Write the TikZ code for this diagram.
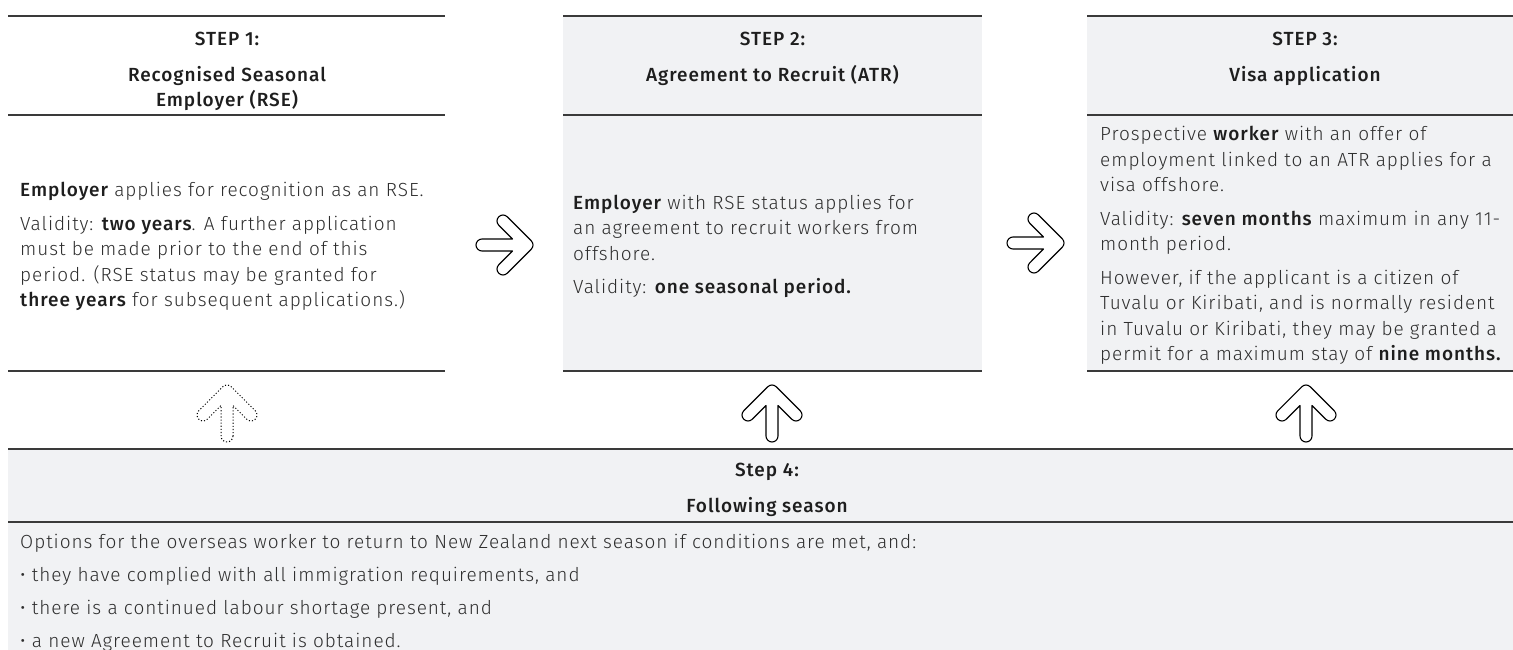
\documentclass[tikz,border=0pt]{standalone}
\usepackage{fontspec}
\setmainfont{Fira Sans Light}[BoldFont={Fira Sans Medium}, LetterSpace=5]
\definecolor{boxgray}{HTML}{F1F2F4}
\definecolor{ink}{HTML}{1E1E1E}
\definecolor{bodyink}{HTML}{2E2E2E}
\definecolor{rulec}{HTML}{3A3A3A}
\newcommand{\hl}[1]{{\bfseries\color{ink}#1}}
\tikzset{
  rulel/.style={draw=rulec, line width=1.4pt},
  graybox/.style={fill=boxgray, draw=none},
  body/.style={anchor=north west, inner sep=0pt, align=left, text=bodyink,
    font=\fontsize{19}{25.5}\selectfont},
  body4/.style={anchor=north west, inner sep=0pt, align=left, text=bodyink,
    font=\fontsize{19}{33}\selectfont},
  steplbl/.style={anchor=base, inner sep=0pt, text=ink,
    font=\bfseries\fontsize{19}{24.5}\selectfont},
  titlelbl/.style={anchor=north, inner sep=0pt, align=center, text=ink,
    font=\bfseries\fontsize{19}{24.5}\selectfont},
  arrowline/.style={draw=black, line width=1.1pt, line join=round, fill=white},
  bigarrow/.pic={
    \path[pic actions]
      (6,45) arc[start angle=0,end angle=180,radius=6]
      -- (-6,14.485)
      -- (-19.757,28.243)
      arc[start angle=45,end angle=225,radius=6]
      -- (-4.243,-4.243)
      arc[start angle=225,end angle=315,radius=6]
      -- (28.243,19.757)
      arc[start angle=-45,end angle=135,radius=6]
      -- (6,14.485)
      -- cycle;
  }
}
\begin{document}
\begin{tikzpicture}[x=1pt,y=-1pt]
\useasboundingbox (0,0) rectangle (1513,650);
% backgrounds
\path[graybox] (563,16) rectangle (982,371);
\path[graybox] (1087,16) rectangle (1513,371);
\path[graybox] (8,449) rectangle (1513,650);
% step 1 rules
\coordinate (r1a) at (8,16);   \coordinate (r1b) at (445,16);
\coordinate (r1c) at (8,115);  \coordinate (r1d) at (445,115);
\coordinate (r1e) at (8,371);  \coordinate (r1f) at (445,371);
\draw[rulel] (r1a) -- (r1b);
\draw[rulel] (r1c) -- (r1d);
\draw[rulel] (r1e) -- (r1f);
% step 2 rules
\coordinate (r2a) at (563,16);   \coordinate (r2b) at (982,16);
\coordinate (r2c) at (563,115);  \coordinate (r2d) at (982,115);
\coordinate (r2e) at (563,371);  \coordinate (r2f) at (982,371);
\draw[rulel] (r2a) -- (r2b);
\draw[rulel] (r2c) -- (r2d);
\draw[rulel] (r2e) -- (r2f);
% step 3 rules
\coordinate (r3a) at (1087,16);   \coordinate (r3b) at (1513,16);
\coordinate (r3c) at (1087,115);  \coordinate (r3d) at (1513,115);
\coordinate (r3e) at (1087,371);  \coordinate (r3f) at (1513,371);
\draw[rulel] (r3a) -- (r3b);
\draw[rulel] (r3c) -- (r3d);
\draw[rulel] (r3e) -- (r3f);
% step 4 rules
\coordinate (r4a) at (8,449);   \coordinate (r4b) at (1513,449);
\coordinate (r4c) at (8,522);   \coordinate (r4d) at (1513,522);
\draw[rulel] (r4a) -- (r4b);
\draw[rulel] (r4c) -- (r4d);

% headers
\node[steplbl] (s1n) at (227,45.7) {STEP 1:};
\node[titlelbl] (s1t) at (227,64.55) {\strut Recognised Seasonal\\Employer (RSE)};
\node[steplbl] (s2n) at (772.5,45.7) {STEP 2:};
\node[titlelbl] (s2t) at (772.5,64.55) {\strut Agreement to Recruit (ATR)};
\node[steplbl] (s3n) at (1305,45.7) {STEP 3:};
\node[titlelbl] (s3t) at (1305,64.55) {\strut Visa application};

% bodies
\node[body] (s1b) at (20,178.85) {\strut\hl{Employer} applies for recognition as an RSE.\\[8pt]
Validity: \hl{two years}. A further application\\
must be made prior to the end of this\\
period. (RSE status may be granted for\\
\hl{three years} for subsequent applications.)};

\node[body] (s2b) at (573,191.15) {\strut\hl{Employer} with RSE status applies for\\
an agreement to recruit workers from\\
offshore.\\[8pt]
Validity: \hl{one seasonal period.}};

\node[body] (s3b) at (1100,122.45) {\strut Prospective \hl{worker} with an offer of\\
employment linked to an ATR applies for a\\
visa offshore.\\[8pt]
Validity: \hl{seven months} maximum in any 11-\\
month period.\\[8pt]
However, if the applicant is a citizen of\\
Tuvalu or Kiribati, and is normally resident\\
in Tuvalu or Kiribati, they may be granted a\\
permit for a maximum stay of \hl{nine months.}};

% step 4
\node[steplbl] (s4n) at (767,476.7) {Step 4:};
\node[steplbl] (s4t) at (767,512.5) {Following season};
\node[body4] (s4b) at (20,525.2) {\strut Options for the overseas worker to return to New Zealand next season if conditions are met, and:\\
• they have complied with all immigration requirements, and\\
• there is a continued labour shortage present, and\\
• a new Agreement to Recruit is obtained.};

% arrows
\pic[arrowline, rotate=-90] (ra1) at (527,245) {bigarrow};
\pic[arrowline, rotate=-90] (ra2) at (1058,243) {bigarrow};
\pic[arrowline, dotted, line width=1pt] (ua1) at (227,391) {bigarrow};
\pic[arrowline] (ua2) at (772,391) {bigarrow};
\pic[arrowline] (ua3) at (1306,391) {bigarrow};
\end{tikzpicture}
\end{document}
